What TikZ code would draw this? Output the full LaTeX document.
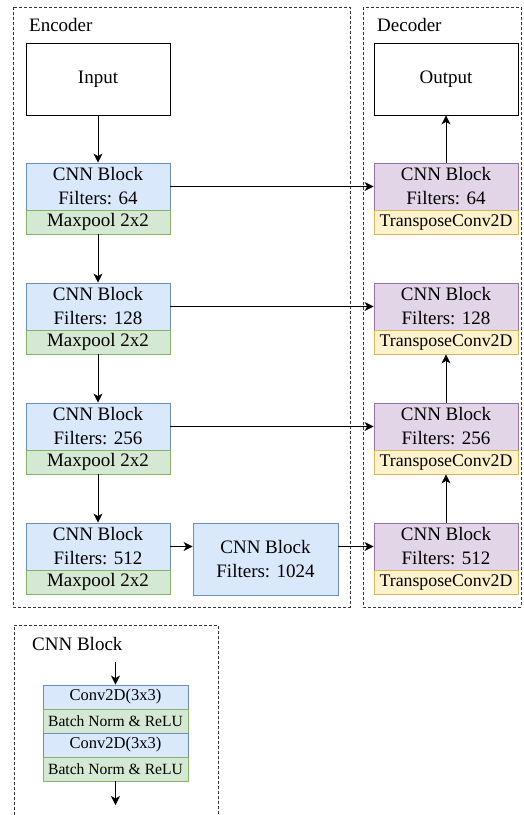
\documentclass[tikz,border=0pt]{standalone}
\usepackage{fontspec}
\setmainfont{Liberation Serif}
\usetikzlibrary{arrows.meta}

\definecolor{convFill}{HTML}{DAE8FC}
\definecolor{convLine}{HTML}{6C8EBF}
\definecolor{poolFill}{HTML}{D5E8D4}
\definecolor{poolLine}{HTML}{82B366}
\definecolor{upFill}{HTML}{E1D5E7}
\definecolor{upLine}{HTML}{9673A6}
\definecolor{tconvFill}{HTML}{FFF2CC}
\definecolor{tconvLine}{HTML}{D6B656}

\tikzset{
  box/.style={draw, line width=0.8pt, minimum width=144pt, inner sep=0pt,
    align=center, font=\fontsize{19}{24}\selectfont},
  conv/.style={box, fill=convFill, draw=convLine, minimum height=47pt},
  pool/.style={box, fill=poolFill, draw=poolLine, minimum height=24pt},
  upconv/.style={box, fill=upFill, draw=upLine, minimum height=47pt},
  tconv/.style={box, fill=tconvFill, draw=tconvLine, minimum height=24pt,
    font=\fontsize{17.8}{20}\selectfont},
  io/.style={box, fill=white, draw=black, minimum height=72pt},
  mini/.style={box, minimum width=145pt, minimum height=24pt},
  miniconv/.style={mini, fill=convFill, draw=convLine, font=\fontsize{16.5}{19}\selectfont},
  mininorm/.style={mini, fill=poolFill, draw=poolLine, font=\fontsize{15.6}{18}\selectfont},
  group/.style={draw=black!80, dash pattern=on 3pt off 2pt, line width=0.9pt},
  grouplabel/.style={anchor=base west, inner sep=0pt, font=\fontsize{19}{22}\selectfont},
  link/.style={draw=black, line width=1pt, -{Stealth[length=9pt,width=9pt,inset=2.5pt]}},
}

\begin{document}
\begin{tikzpicture}[x=1pt,y=-1pt]
\useasboundingbox (0,0) rectangle (523,815);

% group frames
\draw[group] (13,7) rectangle (350,607);
\draw[group] (363,7) rectangle (521,607);
\draw[group] (14,815) -- (14,625) -- (218,625) -- (218,815);
\node[grouplabel] (encLbl) at (29,31) {Encoder};
\node[grouplabel] (decLbl) at (377,31) {Decoder};
\node[grouplabel] (blkLbl) at (32,650) {CNN Block};

% encoder
\node[io] (in) at (98,79) {Input};
\node[conv] (e1) at (98,186.5) {CNN Block\\Filters: 64};
\node[pool] (p1) at (98,222) {Maxpool 2x2};
\node[conv] (e2) at (98,306.5) {CNN Block\\Filters: 128};
\node[pool] (p2) at (98,342) {Maxpool 2x2};
\node[conv] (e3) at (98,426.5) {CNN Block\\Filters: 256};
\node[pool] (p3) at (98,462) {Maxpool 2x2};
\node[conv] (e4) at (98,546.5) {CNN Block\\Filters: 512};
\node[pool] (p4) at (98,582) {Maxpool 2x2};
\node[conv, minimum width=145pt, minimum height=72pt] (mid) at (265.5,559) {CNN Block\\Filters: 1024};

% decoder
\node[io] (out) at (446,79) {Output};
\node[upconv] (d1) at (446,186.5) {CNN Block\\Filters: 64};
\node[tconv] (t1) at (446,222) {TransposeConv2D};
\node[upconv] (d2) at (446,306.5) {CNN Block\\Filters: 128};
\node[tconv] (t2) at (446,342) {TransposeConv2D};
\node[upconv] (d3) at (446,426.5) {CNN Block\\Filters: 256};
\node[tconv] (t3) at (446,462) {TransposeConv2D};
\node[upconv] (d4) at (446,546.5) {CNN Block\\Filters: 512};
\node[tconv] (t4) at (446,582) {TransposeConv2D};

% contracting path
\draw[link] (in) -- (e1);
\draw[link] (p1) -- (e2);
\draw[link] (p2) -- (e3);
\draw[link] (p3) -- (e4);
\draw[link] (e4.east) -- (e4.east -| mid.west);
\draw[link] (mid.east |- d4.west) -- (d4.west);

% skip connections
\draw[link] (e1) -- (d1);
\draw[link] (e2) -- (d2);
\draw[link] (e3) -- (d3);

% expanding path
\draw[link] (d4) -- (t3);
\draw[link] (d3) -- (t2);
\draw[link] (d1) -- (out);

% inside a CNN block
\coordinate (blkIn) at (115.5,662);
\coordinate (blkOut) at (115.5,805);
\node[miniconv] (c1) at (115.5,697) {Conv2D(3x3)};
\node[mininorm] (n1) at (115.5,721) {Batch Norm \& ReLU};
\node[miniconv] (c2) at (115.5,745) {Conv2D(3x3)};
\node[mininorm] (n2) at (115.5,769) {Batch Norm \& ReLU};
\draw[link] (blkIn) -- (c1);
\draw[link] (n2) -- (blkOut);
\end{tikzpicture}
\end{document}
